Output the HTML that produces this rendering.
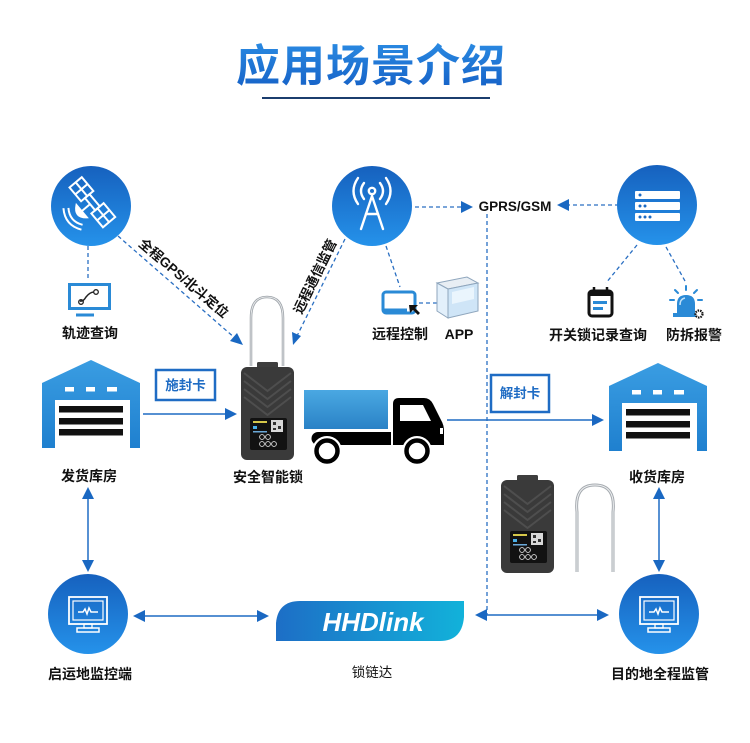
<!DOCTYPE html>
<html><head><meta charset="utf-8">
<style>
html,body{margin:0;padding:0;background:#fff;}
svg{display:block;}
text{font-family:"Liberation Sans","Noto Sans CJK SC",sans-serif;}
.lb{font-size:14px;font-weight:bold;fill:#111;text-anchor:middle;}
</style></head>
<body>
<svg width="750" height="743" viewBox="0 0 750 743" xmlns="http://www.w3.org/2000/svg">
<defs>
<linearGradient id="tg" x1="0" y1="0" x2="0" y2="1"><stop offset="0" stop-color="#2a8ae2"/><stop offset="1" stop-color="#1560c6"/></linearGradient>
<linearGradient id="cg" x1="0" y1="0" x2="0" y2="1"><stop offset="0" stop-color="#1661be"/><stop offset="1" stop-color="#2592ea"/></linearGradient>
<linearGradient id="wg" x1="0" y1="0" x2="0" y2="1"><stop offset="0" stop-color="#3a9de2"/><stop offset="1" stop-color="#1f80cf"/></linearGradient>
<linearGradient id="bg" x1="0" y1="0" x2="0" y2="1"><stop offset="0" stop-color="#4aa8e2"/><stop offset="1" stop-color="#2a82c6"/></linearGradient>
<linearGradient id="hg" x1="0" y1="0" x2="1" y2="0"><stop offset="0" stop-color="#1d6ec6"/><stop offset="1" stop-color="#12b2da"/></linearGradient>
</defs>

<!-- Title -->
<text x="371" y="81" font-size="44" font-weight="bold" fill="url(#tg)" text-anchor="middle" letter-spacing="1">应用场景介绍</text>
<line x1="262" y1="98" x2="490" y2="98" stroke="#1b3d6e" stroke-width="2"/>

<!-- dashed connectors -->
<g stroke="#2a6fc2" stroke-width="1.3" stroke-dasharray="4 3" fill="none">
<line x1="88" y1="246" x2="88" y2="278"/>
<line x1="118" y1="236" x2="236" y2="339"/>
<line x1="345" y1="239" x2="296" y2="338"/>
<line x1="386" y1="246" x2="400" y2="287"/>
<line x1="419" y1="303" x2="440" y2="303"/>
<line x1="415" y1="207" x2="462" y2="207"/>
<line x1="566" y1="205" x2="617" y2="205"/>
<line x1="487" y1="214" x2="487" y2="615"/>
<line x1="637" y1="245" x2="606" y2="283"/>
<line x1="666" y1="247" x2="685" y2="281"/>
</g>
<g fill="#1a68c2">
<polygon points="243,345 230,341 237,333"/>
<polygon points="293,345 292,332 301,336"/>
<polygon points="473,207 461,201 461,213"/>
<polygon points="557,205 569,199 569,211"/>
</g>

<!-- diagonal labels -->
<text transform="translate(183,279) rotate(40.6)" font-size="13.5" font-weight="bold" fill="#111" text-anchor="middle" dominant-baseline="middle">全程GPS/北斗定位</text>
<text transform="translate(316,277) rotate(-64)" font-size="13.5" font-weight="bold" fill="#111" text-anchor="middle" dominant-baseline="middle">远程通信监管</text>

<!-- top circles -->
<circle cx="91" cy="206" r="40" fill="url(#cg)"/>
<g transform="translate(93,203) rotate(-40)" fill="none" stroke="#fff" stroke-width="2">
<rect x="-8" y="-27" width="16" height="18"/>
<line x1="0" y1="-27" x2="0" y2="-9"/><line x1="-8" y1="-18" x2="8" y2="-18"/>
<rect x="-8" y="7" width="16" height="18"/>
<line x1="0" y1="7" x2="0" y2="25"/><line x1="-8" y1="16" x2="8" y2="16"/>
<rect x="-3" y="-9" width="6" height="16"/>
<path d="M-3,-1 L-14,-1 M-14,-9 Q-24,-1 -14,7 Z" fill="#fff"/>
<path d="M-22,-12 Q-30,-1 -22,10" />
<path d="M-26,-15 Q-36,-1 -26,13" />
</g>

<circle cx="372" cy="206" r="40" fill="url(#cg)"/>
<g fill="none" stroke="#fff" stroke-width="2.4" stroke-linecap="round">
<path d="M361,229 L372,196 L383,229"/>
<line x1="366" y1="214" x2="378" y2="214"/>
<circle cx="372" cy="191" r="3.2"/>
<path d="M364,183 Q358,191 364,199"/><path d="M380,183 Q386,191 380,199"/>
<path d="M358,178 Q349,191 358,204"/><path d="M386,178 Q395,191 386,204"/>
</g>

<circle cx="657" cy="205" r="40" fill="url(#cg)"/>
<g fill="#fff">
<rect x="635" y="191" width="45" height="8" rx="1"/>
<rect x="635" y="202" width="45" height="8" rx="1"/>
<rect x="635" y="213" width="45" height="8" rx="1"/>
</g>
<g fill="#1a6ac4">
<circle cx="640" cy="195" r="1.5"/>
<circle cx="640" cy="206" r="1.5"/><circle cx="645" cy="206" r="1.5"/>
<circle cx="640" cy="217" r="1.5"/><circle cx="645" cy="217" r="1.5"/><circle cx="650" cy="217" r="1.5"/>
</g>

<text x="515" y="211" font-size="13.5" font-weight="bold" fill="#111" text-anchor="middle">GPRS/GSM</text>

<!-- track icon -->
<rect x="69.5" y="284.5" width="40" height="24" fill="#fff" stroke="#2a8ad6" stroke-width="3"/>
<line x1="76" y1="315" x2="94" y2="315" stroke="#2a8ad6" stroke-width="3"/>
<path d="M94,292 Q90,292 86,297 Q83,302 80,301" fill="none" stroke="#222" stroke-width="1.5"/>
<circle cx="96" cy="292" r="2.3" fill="none" stroke="#222" stroke-width="1.3"/>
<circle cx="81" cy="302" r="2.3" fill="none" stroke="#222" stroke-width="1.3"/>
<text class="lb" x="90" y="338">轨迹查询</text>

<!-- remote control icon -->
<rect x="383" y="292" width="32" height="21" rx="3" fill="none" stroke="#2a8ad6" stroke-width="3"/>
<line x1="383" y1="310" x2="407" y2="310" stroke="#2a8ad6" stroke-width="3"/>
<path d="M409,305 L418,305 L415,308 L420,313 L418,315 L413,310 L410,313 Z" fill="#111"/>
<!-- APP icon -->
<polygon points="437,283 467,277 478,283 448,289" fill="#e8eef4" stroke="#8fa6bd" stroke-width="1"/>
<polygon points="448,289 478,283 478,311 448,318" fill="#cfe5f7" stroke="#8fa6bd" stroke-width="1"/>
<polygon points="437,283 448,289 448,318 437,311" fill="#e3f0fb" stroke="#8fa6bd" stroke-width="1"/>
<polygon points="452,292 474,287 474,299 452,304" fill="#eaf5fd"/>
<text class="lb" x="400" y="339">远程控制</text>
<text class="lb" x="459" y="339">APP</text>

<!-- calendar -->
<rect x="589" y="291" width="23" height="25" rx="3" fill="#fff" stroke="#111" stroke-width="3"/>
<rect x="589" y="291" width="23" height="5" fill="#111"/>
<line x1="594" y1="287" x2="594" y2="292" stroke="#111" stroke-width="2.5"/>
<line x1="607" y1="287" x2="607" y2="292" stroke="#111" stroke-width="2.5"/>
<rect x="593" y="301" width="14" height="3" fill="#2a8ad6"/>
<rect x="593" y="307" width="10" height="3" fill="#2a8ad6"/>
<!-- alarm -->
<path d="M677,314 L677,304 Q677,295 686,295 Q695,295 695,304 L695,314 Z" fill="#2a8ad6"/>
<path d="M680,305 Q680,299 685,298" fill="none" stroke="#bfe0f7" stroke-width="1.5"/>
<rect x="673" y="313" width="24" height="4" fill="#2a8ad6"/>
<g stroke="#2a8ad6" stroke-width="2" stroke-linecap="round">
<line x1="686" y1="286" x2="686" y2="290"/>
<line x1="675" y1="290" x2="678" y2="293"/>
<line x1="697" y1="290" x2="694" y2="293"/>
<line x1="670" y1="300" x2="674" y2="300"/>
<line x1="698" y1="300" x2="702" y2="300"/>
</g>
<circle cx="699" cy="314" r="3.5" fill="#fff" stroke="#111" stroke-width="2.2" stroke-dasharray="1.5 1"/>
<text class="lb" x="598" y="340">开关锁记录查询</text>
<text class="lb" x="694" y="340">防拆报警</text>

<!-- warehouses -->
<g id="wh">
<path d="M91,360 L140,383 L140,448 L42,448 L42,383 Z" fill="url(#wg)"/>
<rect x="55" y="400" width="75" height="48" fill="#fff"/>
<rect x="59" y="406" width="64" height="6.5" fill="#111"/>
<rect x="59" y="418" width="64" height="6.5" fill="#111"/>
<rect x="59" y="429" width="64" height="6.5" fill="#111"/>
<rect x="65" y="387" width="9" height="4.5" fill="#fff"/>
<rect x="86" y="387" width="9" height="4.5" fill="#fff"/>
<rect x="107" y="387" width="10" height="4.5" fill="#fff"/>
</g>
<use href="#wh" transform="translate(567,3)"/>
<text class="lb" x="89" y="481">发货库房</text>
<text class="lb" x="657" y="482">收货库房</text>

<!-- seal boxes -->
<rect x="156" y="370" width="59" height="30" fill="#fff" stroke="#1f6cc4" stroke-width="2.5"/>
<text x="185.5" y="390" font-size="13.5" font-weight="bold" fill="#1f6cc4" text-anchor="middle">施封卡</text>
<rect x="491" y="375" width="58" height="37" fill="#fff" stroke="#1f6cc4" stroke-width="2.5"/>
<text x="520" y="398" font-size="13.5" font-weight="bold" fill="#1f6cc4" text-anchor="middle">解封卡</text>

<!-- solid arrows middle -->
<line x1="143" y1="414" x2="228" y2="414" stroke="#1f6cc4" stroke-width="1.5"/>
<polygon points="237,414 225,408 225,420" fill="#1a68c2"/>
<line x1="447" y1="420" x2="596" y2="420" stroke="#1f6cc4" stroke-width="1.5"/>
<polygon points="604,420 592,414 592,426" fill="#1a68c2"/>

<!-- lock main -->
<path d="M251,366 L251,318 Q251,297 267,297 Q283,297 283,318 L283,366" fill="none" stroke="#9aa0a6" stroke-width="2.5"/>
<path d="M251,366 L251,318 Q251,297 267,297 Q283,297 283,318 L283,366" fill="none" stroke="#e4e6e8" stroke-width="1"/>
<g id="lk" transform="translate(241,367)">
<rect x="16" y="-5" width="21" height="8" rx="1.5" fill="#3e3e3e"/>
<rect x="0" y="0" width="53" height="93" rx="6" fill="#3a3a3a"/>
<g fill="none" stroke="#4e4e4e" stroke-width="2">
<polyline points="3,6 26.5,24 50,6"/>
<polyline points="3,14 26.5,32 50,14"/>
<polyline points="3,22 26.5,40 50,22"/>
<polyline points="3,30 26.5,48 50,30"/>
</g>
<rect x="9" y="51" width="37" height="32" rx="2" fill="#121212"/>
<rect x="12" y="54" width="14" height="2" fill="#d6c84a"/>
<rect x="12" y="59" width="4" height="3" fill="#4ab0e8"/>
<rect x="12" y="64" width="14" height="1.5" fill="#6aa8d8"/>
<rect x="30" y="53" width="12" height="12" fill="#d8d8d8"/>
<rect x="32" y="55" width="3" height="3" fill="#333"/><rect x="37" y="59" width="3" height="3" fill="#333"/><rect x="32" y="61" width="3" height="2" fill="#333"/>
<g fill="none" stroke="#ddd" stroke-width="0.9">
<circle cx="21" cy="70" r="2.4"/><circle cx="27" cy="70" r="2.4"/>
<circle cx="21" cy="77" r="2.4"/><circle cx="27" cy="77" r="2.4"/><circle cx="33" cy="77" r="2.4"/>
</g>
</g>
<text class="lb" x="268" y="482">安全智能锁</text>

<!-- truck -->
<rect x="304" y="390" width="84" height="39" fill="url(#bg)"/>
<path d="M318,432 H391 V445 H318 A6.5,6.5 0 0 1 318,432 Z" fill="#000"/>
<path d="M393,445 V404 Q393,398 399,398 H424 Q430,398 433,404 L441,420 Q444,425 444,431 V445 Z" fill="#000"/>
<path d="M400,405 H423 L431,421 H400 Z" fill="#fff"/>
<rect x="440" y="428" width="3" height="6" fill="#fff"/>
<circle cx="327" cy="451" r="15" fill="#fff"/>
<circle cx="327" cy="451" r="10.5" fill="#fff" stroke="#000" stroke-width="4.5"/>
<circle cx="417" cy="451" r="15" fill="#fff"/>
<circle cx="417" cy="451" r="10.5" fill="#fff" stroke="#000" stroke-width="4.5"/>

<!-- lock right + shackle -->
<use href="#lk" transform="translate(260,113)"/>
<path d="M577,572 L577,512 Q574,485 595,485 Q616,485 613,512 L613,572" fill="none" stroke="#a6abb0" stroke-width="3"/>
<path d="M577,572 L577,512 Q574,485 595,485 Q616,485 613,512 L613,572" fill="none" stroke="#eef0f2" stroke-width="1"/>

<!-- vertical double arrows -->
<line x1="88" y1="497" x2="88" y2="563" stroke="#1f6cc4" stroke-width="1.5"/>
<polygon points="88,487 82,499 94,499" fill="#1a68c2"/>
<polygon points="88,572 82,560 94,560" fill="#1a68c2"/>
<line x1="659" y1="497" x2="659" y2="563" stroke="#1f6cc4" stroke-width="1.5"/>
<polygon points="659,487 653,499 665,499" fill="#1a68c2"/>
<polygon points="659,572 653,560 665,560" fill="#1a68c2"/>

<!-- bottom circles -->
<g id="mon">
<circle cx="88" cy="614" r="40" fill="url(#cg)"/>
<rect x="69" y="597" width="38" height="27" fill="none" stroke="#fff" stroke-width="1.8"/>
<rect x="73" y="601" width="30" height="19" fill="none" stroke="#fff" stroke-width="1.2"/>
<polyline points="78,612 83,612 85,609 87,614 89,608 91,612 98,612" fill="none" stroke="#fff" stroke-width="1.5"/>
<rect x="84" y="624" width="8" height="4" fill="none" stroke="#fff" stroke-width="1.3"/>
<rect x="77" y="628" width="22" height="4" fill="none" stroke="#fff" stroke-width="1.5"/>
</g>
<use href="#mon" transform="translate(571,0)"/>
<text class="lb" x="90" y="679">启运地监控端</text>
<text class="lb" x="660" y="679">目的地全程监管</text>

<!-- bottom horizontal arrows -->
<line x1="143" y1="616" x2="260" y2="616" stroke="#1f6cc4" stroke-width="1.5"/>
<polygon points="133,616 145,610 145,622" fill="#1a68c2"/>
<polygon points="269,616 257,610 257,622" fill="#1a68c2"/>
<line x1="485" y1="615" x2="600" y2="615" stroke="#1f6cc4" stroke-width="1.5"/>
<polygon points="475,615 487,609 487,621" fill="#1a68c2"/>
<polygon points="609,615 597,609 597,621" fill="#1a68c2"/>

<!-- HHDlink badge -->
<path d="M276,641 L276,623 Q278,601 300,601 L464,601 L464,617 Q462,641 440,641 Z" fill="url(#hg)"/>
<text x="373" y="631" font-size="26" font-weight="bold" font-style="italic" fill="#fff" text-anchor="middle">HHDlink</text>
<text x="372" y="677" font-size="13.5" fill="#111" text-anchor="middle">锁链达</text>
</svg>
</body></html>
